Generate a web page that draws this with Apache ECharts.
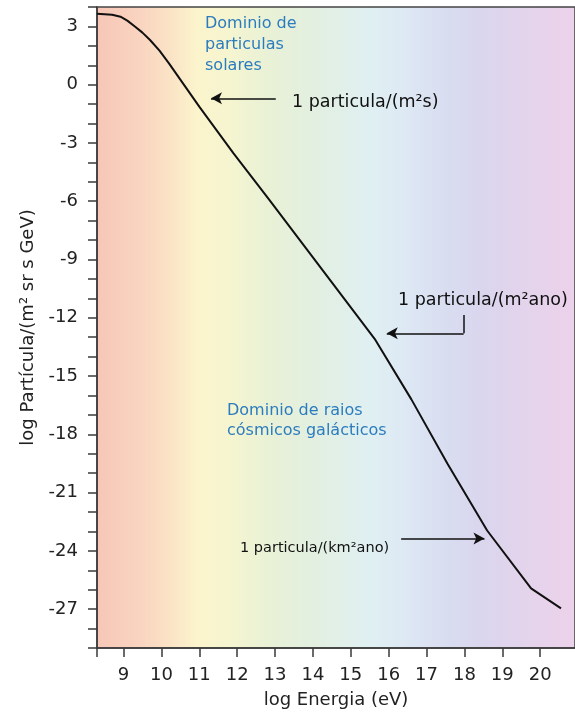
<!DOCTYPE html>
<html>
<head>
<meta charset="utf-8">
<script src="https://cdn.jsdelivr.net/npm/echarts@6/dist/echarts.min.js"></script>
<style>
  html, body { margin: 0; padding: 0; background: #ffffff; }
  #chart { width: 575px; height: 717px; }
</style>
</head>
<body>
<div id="chart"></div>
<script>
// log energy (eV) and log flux
const energy = [8.3, 8.7, 8.92, 9.1, 9.3, 9.5, 9.7, 9.95, 10.2, 11.0, 11.9, 12.85, 13.85, 15.65, 16.6, 17.55, 18.6, 19.76, 20.55];
const flux   = [3.65, 3.6, 3.5, 3.3, 3.0, 2.68, 2.3, 1.75, 1.1, -1.13, -3.52, -5.93, -8.5, -13.14, -16.2, -19.5, -22.95, -25.93, -26.96];

const xTickLabels = [9, 10, 11, 12, 13, 14, 15, 16, 17, 18, 19, 20];
const yTickLabels = [-27, -24, -21, -18, -15, -12, -9, -6, -3, 0, 3];

const FONT = '"DejaVu Sans", "Liberation Sans", Arial, sans-serif';

const chart = echarts.init(document.getElementById('chart'), null, { renderer: 'canvas' });

const bg = new echarts.graphic.LinearGradient(0, 0, 1, 0, [
  { offset: 0.00, color: '#f7c6b6' },
  { offset: 0.09, color: '#f9d4c0' },
  { offset: 0.15, color: '#fbe2c5' },
  { offset: 0.21, color: '#fbf4cc' },
  { offset: 0.28, color: '#f5f5d0' },
  { offset: 0.36, color: '#e9f1d6' },
  { offset: 0.46, color: '#e2efe1' },
  { offset: 0.57, color: '#e0f0f2' },
  { offset: 0.65, color: '#dde8f4' },
  { offset: 0.73, color: '#d9ddf0' },
  { offset: 0.80, color: '#d9d6ee' },
  { offset: 0.88, color: '#e2d4ec' },
  { offset: 1.00, color: '#ecd2ea' }
]);

const axisColor = '#3a3a3a';

chart.setOption({
  animation: false,
  backgroundColor: '#ffffff',
  grid: {
    left: 97, right: -3, top: 7, bottom: 69,
    show: true, backgroundColor: bg,
    borderColor: '#444', borderWidth: 1.5
  },
  xAxis: {
    type: 'value',
    min: 8.3, max: 20.92,
    splitLine: { show: false },
    axisLine: { show: true, onZero: false, lineStyle: { color: axisColor, width: 1.5 } },
    axisTick: { show: true, inside: false, length: 9, lineStyle: { color: axisColor, width: 1.5 },
                customValues: [8.3].concat(xTickLabels) },
    axisLabel: { customValues: xTickLabels, margin: 18, color: '#222', fontSize: 18, fontFamily: FONT },
    name: 'log Energia (eV)',
    nameLocation: 'middle', nameGap: 43,
    nameTextStyle: { color: '#222', fontSize: 18, fontFamily: FONT }
  },
  yAxis: {
    type: 'value',
    min: -29, max: 4, interval: 1,
    splitLine: { show: false },
    axisLine: { show: true, onZero: false, lineStyle: { color: axisColor, width: 1.5 } },
    axisTick: { show: true, inside: false, length: 9, lineStyle: { color: axisColor, width: 1.5 } },
    axisLabel: { customValues: yTickLabels, margin: 19, color: '#222', fontSize: 18, fontFamily: FONT },
    name: 'log Partícula/(m² sr s GeV)',
    nameLocation: 'middle', nameGap: 60,
    nameTextStyle: { color: '#222', fontSize: 18, fontFamily: FONT }
  },
  series: [{
    type: 'line',
    data: energy.map((e, i) => [e, flux[i]]),
    showSymbol: false,
    symbol: 'none',
    smooth: false,
    lineStyle: { color: '#111', width: 2 },
    markLine: {
      silent: true,
      animation: false,
      symbol: ['none', 'arrow'],
      symbolSize: [9, 11],
      label: { show: false },
      lineStyle: { color: '#111', width: 1.5, type: 'solid' },
      emphasis: { disabled: true },
      data: [
        [{ coord: [13.02, -0.70] }, { coord: [11.31, -0.70] }],
        [{ coord: [17.98, -11.86], symbol: 'none' }, { coord: [17.98, -12.80], symbol: 'none' }],
        [{ coord: [17.98, -12.80] }, { coord: [15.95, -12.80] }],
        [{ coord: [16.33, -23.36] }, { coord: [18.53, -23.36] }]
      ]
    }
  }],
  graphic: [
    { type: 'text', x: 205, y: 13, silent: true,
      style: { text: 'Dominio de\nparticulas\nsolares', fill: '#2b7cbf', font: '16px ' + FONT, lineHeight: 21, verticalAlign: 'top', align: 'left' } },
    { type: 'text', x: 227, y: 401, silent: true,
      style: { text: 'Dominio de raios\ncósmicos galácticos', fill: '#2b7cbf', font: '16px ' + FONT, lineHeight: 20, verticalAlign: 'top', align: 'left' } },
    { type: 'text', x: 292, y: 102, silent: true,
      style: { text: '1 particula/(m²s)', fill: '#111', font: '17.5px ' + FONT, verticalAlign: 'middle', align: 'left' } },
    { type: 'text', x: 398, y: 300, silent: true,
      style: { text: '1 particula/(m²ano)', fill: '#111', font: '17.5px ' + FONT, verticalAlign: 'middle', align: 'left' } },
    { type: 'text', x: 240, y: 548, silent: true,
      style: { text: '1 particula/(km²ano)', fill: '#111', font: '14.5px ' + FONT, verticalAlign: 'middle', align: 'left' } }
  ]
});
</script>
</body>
</html>
